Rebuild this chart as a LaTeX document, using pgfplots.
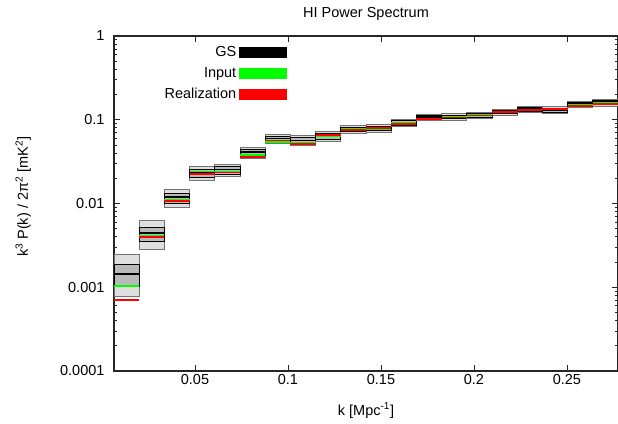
\documentclass[border=0pt]{standalone}
\usepackage{fontspec}
\setmainfont{Liberation Sans}
\usepackage{pgfplots}
\usepackage{pgfplotstable}
\pgfplotsset{compat=1.18}

\definecolor{boxout}{RGB}{222,222,222}
\definecolor{boxin}{RGB}{185,185,185}
\definecolor{inputgreen}{RGB}{0,255,0}
\definecolor{realred}{RGB}{255,0,0}
\newcommand\chartfont{\fontsize{14.5}{17}\selectfont}
\newcommand\binw{0.01355}
\newcommand\halfw{0.006775}

% one row per k bin: left edge, outer box, inner box, GS mean, input, realization
\pgfplotstableread{
x0      olo      ilo      mean     ihi      ohi      inp      real
0.00645 0.000771 0.001035 0.001427 0.001858 0.002474 0.001035 0.000704
0.0200  0.00286  0.00357  0.00444  0.0052   0.00635  0.00409  0.00398
0.03355 0.00908  0.01014  0.01196  0.01334  0.0149   0.0110   0.0107
0.0471  0.01908  0.0207   0.0231   0.0258   0.0275   0.0240   0.0225
0.06065 0.0210   0.0225   0.02547  0.02805  0.02963  0.0240   0.02345
0.0742  0.03494  0.03742  0.04121  0.04473  0.04726  0.03795  0.03621
0.08775 0.0523   0.0558   0.0597   0.0640   0.0671   0.0542   0.0565
0.1013  0.0490   0.0521   0.0565   0.0614   0.0645   0.0535   0.0509
0.11485 0.0558   0.0589   0.0640   0.0695   0.0734   0.0630   0.0657
0.1284  0.0685   0.0724   0.0765   0.0819   0.0866   0.0790   0.0754
0.14195 0.0704   0.0744   0.0786   0.0831   0.0878   0.0776   0.0790
0.1555  0.0842   0.0866   0.0927   0.0980   0.1007   0.0922   0.0897
0.16905 0.0980   0.1007   0.1078   0.1124   0.1156   0.1040   0.1012
0.1826  0.0993   0.1035   0.1094   0.1140   0.1188   0.1078   0.1064
0.19615 0.1035   0.1078   0.1140   0.1188   0.1237   0.1161   0.1124
0.2097  0.1124   0.1188   0.1237   0.1290   0.1344   0.1254   0.1248
0.22325 0.1221   0.1272   0.1344   0.1401   0.1460   0.1326   0.1297
0.2368  0.1188   0.1237   0.1307   0.1381   0.1440   0.1326   0.1333
0.25035 0.1401   0.1460   0.1541   0.1607   0.1675   0.1521   0.1471
0.2639  0.1460   0.1541   0.1629   0.1698   0.1769   0.1607   0.1541
}\bins

\begin{document}
\begin{tikzpicture}
\useasboundingbox (-114pt,-52pt) rectangle (504pt,371pt);
\begin{axis}[
    at={(0pt,0pt)}, anchor=south west,
    width=504pt, height=335pt, scale only axis,
    xmin=0.00645, xmax=0.27745,
    ymode=log, ymin=1e-4, ymax=1,
    xtick={0.05,0.1,0.15,0.2,0.25},
    xticklabels={0.05,0.1,0.15,0.2,0.25},
    ytick={1e-4,1e-3,1e-2,1e-1,1},
    yticklabels={0.0001,0.001,0.01,0.1,1},
    minor ytick={2e-4,3e-4,4e-4,5e-4,6e-4,7e-4,8e-4,9e-4,
                 2e-3,3e-3,4e-3,5e-3,6e-3,7e-3,8e-3,9e-3,
                 2e-2,3e-2,4e-2,5e-2,6e-2,7e-2,8e-2,9e-2,
                 0.2,0.3,0.4,0.5,0.6,0.7,0.8,0.9},
    tick align=inside,
    major tick length=6pt, minor tick length=3.5pt,
    axis line style={black!85, line width=1.2pt},
    tick style={black!85, line width=0.9pt},
    /pgf/number format/assume math mode=true,
    tick label style={font=\chartfont},
    yticklabel style={xshift=-6pt},
    title={HI Power Spectrum},
    title style={font=\chartfont, at={(axis description cs:0.5,1)}, anchor=base, yshift=13pt},
    xlabel={k [Mpc\textsuperscript{-1}]},
    xlabel style={font=\chartfont, at={(axis description cs:0.5,-0.118)}, anchor=center},
    ylabel={k\textsuperscript{3} P(k) / 2π\textsuperscript{2} [mK\textsuperscript{2}]},
    ylabel style={font=\chartfont, at={(axis description cs:-0.18,0.52)}, anchor=center},
    legend image code/.code={\fill[#1] (0pt,-5.3pt) rectangle (47pt,5.3pt);},
    legend plot pos=right,
    legend cell align=right,
    legend style={font=\chartfont, draw=none, fill=none, inner sep=0pt,
        at={(axis description cs:0.343,0.976)}, anchor=north east,
        row sep=5.5pt, column sep=1pt},
]

\pgfplotstablegetrowsof{\bins}
\pgfmathtruncatemacro\lastrow{\pgfplotsretval-1}
\pgfplotsforeachungrouped \i in {0,...,\lastrow}{%
    \pgfplotstablegetelem{\i}{x0}\of\bins \let\xa=\pgfplotsretval
    \pgfplotstablegetelem{\i}{olo}\of\bins \let\olo=\pgfplotsretval
    \pgfplotstablegetelem{\i}{ohi}\of\bins \let\ohi=\pgfplotsretval
    \pgfplotstablegetelem{\i}{ilo}\of\bins \let\ilo=\pgfplotsretval
    \pgfplotstablegetelem{\i}{ihi}\of\bins \let\ihi=\pgfplotsretval
    \pgfmathsetmacro\xb{\xa+\binw}
    \edef\cmd{%
        \noexpand\addplot[forget plot, fill=boxout, draw=black!55, line width=0.8pt]
            coordinates {(\xa,\olo) (\xb,\olo) (\xb,\ohi) (\xa,\ohi)} -- cycle;
        \noexpand\addplot[forget plot, fill=boxin, draw=black, line width=0.8pt]
            coordinates {(\xa,\ilo) (\xb,\ilo) (\xb,\ihi) (\xa,\ihi)} -- cycle;
    }%
    \cmd
}

% GS mean, input and realization as flat segments across each bin
\addplot[forget plot, draw=none, mark=none,
    error bars/.cd, x dir=both, x fixed=\halfw, error mark=none,
    error bar style={draw=black, line width=1.8pt}]
    table[x expr=\thisrow{x0}+\halfw, y=mean] {\bins};
\addplot[forget plot, draw=none, mark=none,
    error bars/.cd, x dir=both, x fixed=\halfw, error mark=none,
    error bar style={draw=inputgreen, line width=1.5pt}]
    table[x expr=\thisrow{x0}+\halfw, y=inp] {\bins};
\addplot[forget plot, draw=none, mark=none,
    error bars/.cd, x dir=both, x fixed=\halfw, error mark=none,
    error bar style={draw=realred, line width=1.8pt}]
    table[x expr=\thisrow{x0}+\halfw, y=real] {\bins};

\addlegendimage{black}\addlegendentry{GS}
\addlegendimage{inputgreen}\addlegendentry{Input}
\addlegendimage{realred}\addlegendentry{Realization}
\end{axis}
\end{tikzpicture}
\end{document}
